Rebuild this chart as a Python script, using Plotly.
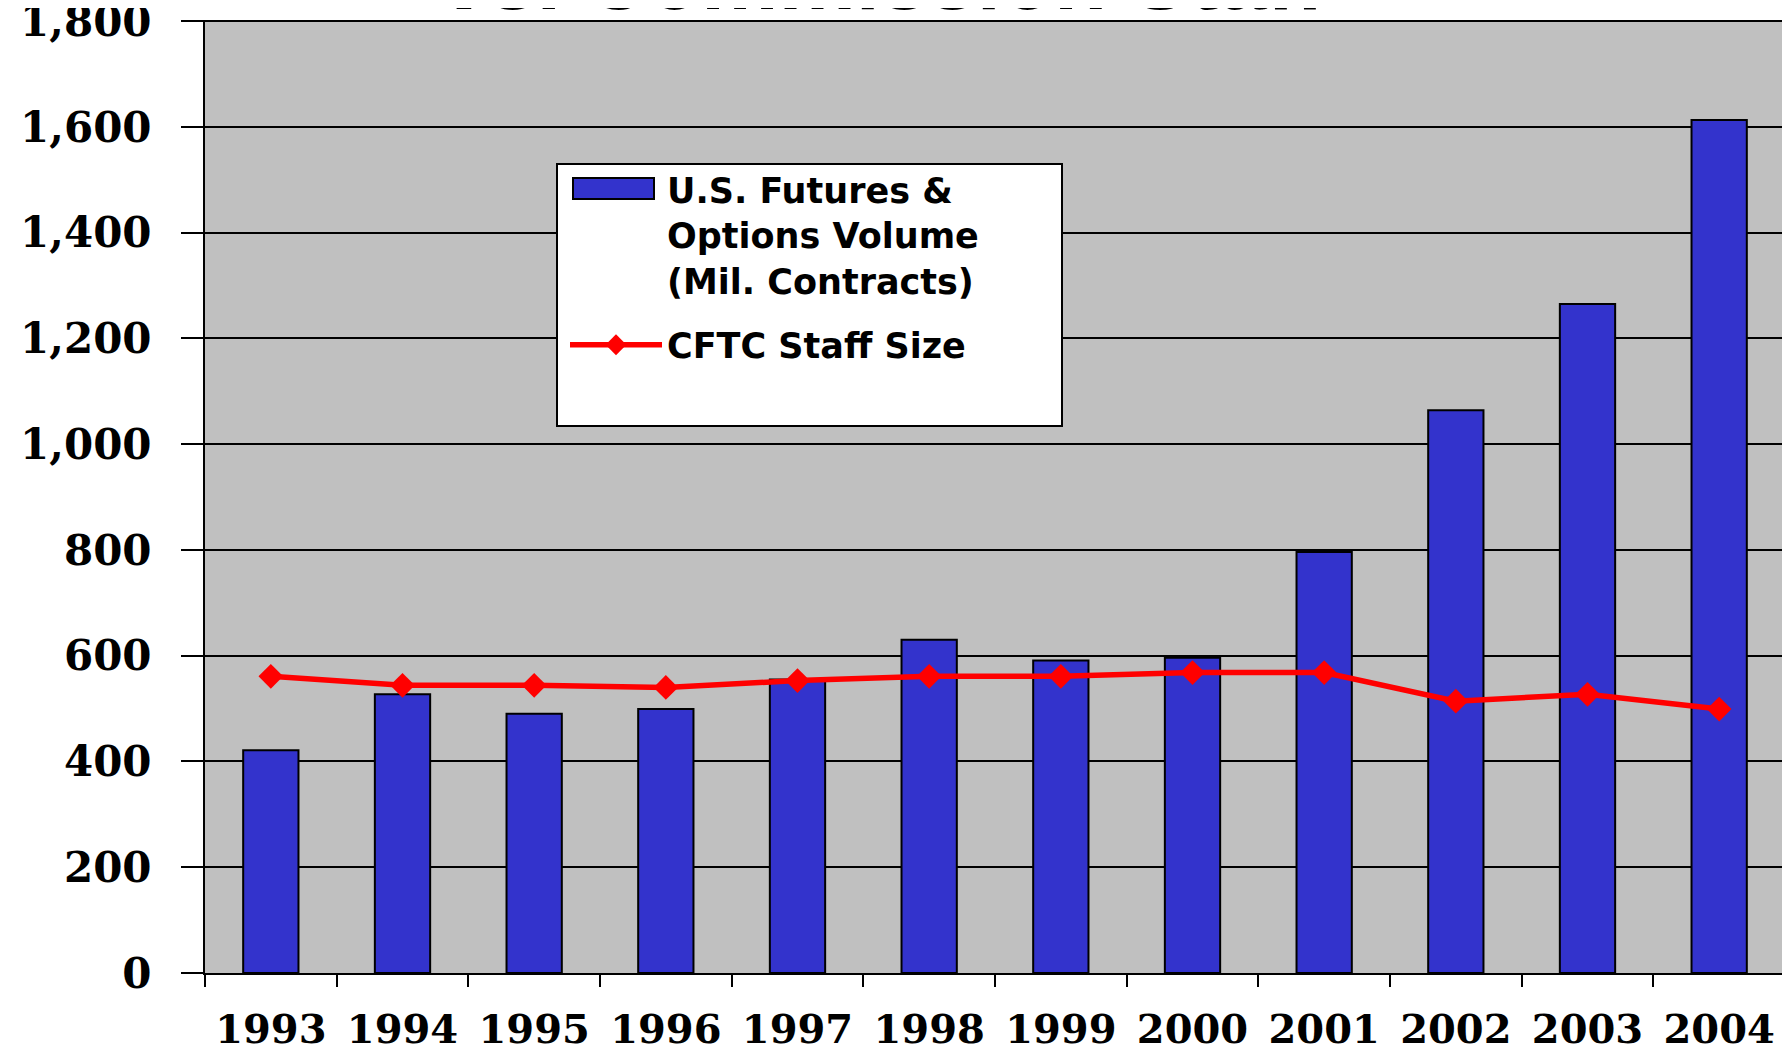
import plotly.graph_objects as go

years = ["1993", "1994", "1995", "1996", "1997", "1998", "1999", "2000", "2001", "2002", "2003", "2004"]
volume = [421, 527, 490, 499, 555, 630, 591, 596, 796, 1064, 1265, 1613]
staff = [561, 544, 544, 540, 553, 561, 561, 568, 568, 514, 527, 499]
y_ticks = [0, 200, 400, 600, 800, 1000, 1200, 1400, 1600, 1800]

OFF = 8  # default page body margin
W, H = 1782, 1043
# target page-pixel edges of the plot area
P_L, P_R, P_T, P_B = 205, 1785, 20, 973
ML, MR, MT, MB = P_L - OFF, W - (P_R - OFF), P_T - OFF, H - (P_B - OFF)


def px_x(px):
    return (px - P_L) / (P_R - P_L)


def px_y(py):
    return (P_B - py) / (P_B - P_T)


vol_name = "U.S. Futures &amp;<br>Options Volume<br>(Mil. Contracts)"
bar_color = "#3333CC"

fig = go.Figure()
fig.add_trace(go.Bar(
    x=years, y=volume, name=vol_name,
    marker=dict(color=bar_color, line=dict(color="black", width=2)),
    width=0.42, showlegend=False,
))
# legend entry text for the bars (swatch drawn as a wide rectangle below)
fig.add_trace(go.Scatter(
    x=[None], y=[None], name=vol_name, mode="lines",
    line=dict(color="rgba(0,0,0,0)", width=1), legendgroup="a",
    hoverinfo="skip",
))
fig.add_trace(go.Scatter(
    x=years, y=staff, name="CFTC Staff Size", mode="lines+markers",
    line=dict(color="#FF0000", width=5.5),
    marker=dict(symbol="diamond", size=19, color="#FF0000"),
    legendgroup="b",
))

# legend box
fig.add_shape(type="rect", xref="paper", yref="paper",
              x0=px_x(557), x1=px_x(1062), y0=px_y(426), y1=px_y(164),
              fillcolor="white", line=dict(color="black", width=2), layer="above")
# wide bar swatch of the legend
fig.add_shape(type="rect", xref="paper", yref="paper",
              x0=px_x(573), x1=px_x(654), y0=px_y(199), y1=px_y(178),
              fillcolor=bar_color, line=dict(color="black", width=2), layer="above")

fig.add_annotation(text="vs. Commission Staff", xref="paper", yref="paper",
                   x=px_x(883), y=px_y(29), xanchor="center", yanchor="bottom",
                   showarrow=False,
                   font=dict(family="Liberation Sans", size=87, color="black", weight="bold"))

fig.update_layout(
    width=W, height=H,
    margin=dict(l=ML, r=MR, t=MT, b=MB, pad=0, autoexpand=False),
    paper_bgcolor="white", plot_bgcolor="#C0C0C0",
    showlegend=True,
    legend=dict(x=px_x(565), y=px_y(160), xanchor="left", yanchor="top",
                bgcolor="rgba(0,0,0,0)", borderwidth=0,
                font=dict(family="DejaVu Sans", size=35, color="black", weight="bold"),
                valign="top", traceorder="grouped", tracegroupgap=16,
                itemwidth=92),
    bargap=0.58,
)
fig.update_xaxes(
    type="category", range=[-0.5, 11.5], automargin=False,
    tickson="boundaries", ticks="outside", ticklen=12,
    tickwidth=2, tickcolor="black", showgrid=False,
    showline=True, linecolor="black", linewidth=2,
    tickfont=dict(family="DejaVu Serif", size=40, color="black", weight="bold"),
    ticklabelstandoff=20, ticklabeloverflow="allow",
)
fig.update_yaxes(
    range=[0, 1802], tickvals=y_ticks, tickformat=",", automargin=False,
    ticks="outside", ticklen=22, tickwidth=2, tickcolor="black",
    showgrid=True, gridcolor="black", gridwidth=1.5,
    showline=True, linecolor="black", linewidth=2,
    zeroline=False,
    tickfont=dict(family="DejaVu Serif", size=42, color="black", weight="bold"),
    ticklabelstandoff=21, ticklabeloverflow="allow",
)

fig.write_html("out.html")
